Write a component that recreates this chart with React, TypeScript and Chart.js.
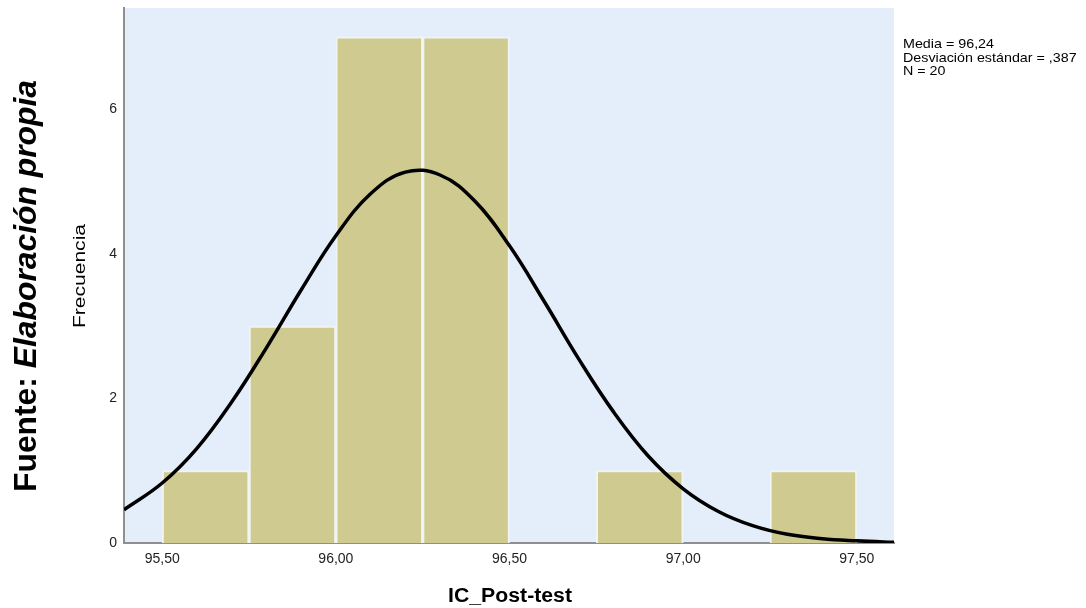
import React, { useEffect, useRef } from 'react';
import { Chart, registerables } from 'chart.js';

Chart.register(...registerables);

const FONT = '"Liberation Sans", Arial, Helvetica, sans-serif';

// Histogram bins (width 0,25) and frequencies
const binCenters = [95.625, 95.875, 96.125, 96.375, 96.625, 96.875, 97.125, 97.375];
const frequencies = [1, 3, 7, 7, 0, 1, 0, 1];

// Normal curve
const curveX = [95.39, 95.5, 95.6, 95.7, 95.8, 95.9, 96.0, 96.1, 96.2, 96.3, 96.4, 96.5, 96.6, 96.7, 96.8, 96.9, 97.0, 97.1, 97.2, 97.3, 97.4, 97.5, 97.6, 97.61];
const curveY = [0.46, 0.83, 1.31, 1.95, 2.70, 3.50, 4.25, 4.83, 5.13, 5.09, 4.73, 4.11, 3.34, 2.54, 1.81, 1.20, 0.75, 0.44, 0.24, 0.12, 0.06, 0.03, 0.01, 0.01];

const xTickValues = [95.5, 96.0, 96.5, 97.0, 97.5];
const yTickValues = [0, 2, 4, 6];

const statsLines = ['Media = 96,24', 'Desviación estándar = ,387', 'N = 20'];
const xTitle = 'IC_Post-test';
const yTitle = 'Frecuencia';
const sourceLabel = 'Fuente: ';
const sourceText = 'Elaboración propia';

const fmt = (v: number) => v.toFixed(2).replace('.', ',');

const zeroPad = (s: any) => {
  s.paddingTop = 0;
  s.paddingBottom = 0;
  s.paddingLeft = 0;
  s.paddingRight = 0;
};

export default function App() {
  const ref = useRef<HTMLCanvasElement>(null);

  useEffect(() => {
    if (!ref.current) return;

    const bgPlugin = {
      id: 'plotBg',
      beforeDraw(chart: any) {
        const { ctx, chartArea: a } = chart;
        ctx.save();
        ctx.fillStyle = '#ffffff';
        ctx.fillRect(0, 0, chart.width, chart.height);
        ctx.fillStyle = '#e3eefa';
        ctx.fillRect(a.left, a.top, a.right - a.left, a.bottom - a.top);
        ctx.restore();
      },
    };

    const textPlugin = {
      id: 'texts',
      afterDraw(chart: any) {
        const ctx: CanvasRenderingContext2D = chart.ctx;
        ctx.save();
        ctx.fillStyle = '#000000';
        ctx.textBaseline = 'alphabetic';
        ctx.textAlign = 'left';

        // Source label, rotated
        const f1 = `bold 32px ${FONT}`;
        const f2 = `italic bold 32px ${FONT}`;
        ctx.font = f1;
        const w1 = ctx.measureText(sourceLabel).width;
        ctx.font = f2;
        const w2 = ctx.measureText(sourceText).width;
        const s1 = 412 / (w1 + w2);
        ctx.save();
        ctx.translate(36, 492);
        ctx.rotate(-Math.PI / 2);
        ctx.scale(s1, 1);
        ctx.font = f1;
        ctx.fillText(sourceLabel, 0, 0);
        ctx.font = f2;
        ctx.fillText(sourceText, w1, 0);
        ctx.restore();

        // Y title
        ctx.save();
        ctx.font = `16px ${FONT}`;
        const wy = ctx.measureText(yTitle).width;
        ctx.translate(85, 328);
        ctx.rotate(-Math.PI / 2);
        ctx.scale(104 / wy, 1);
        ctx.fillText(yTitle, 0, 0);
        ctx.restore();

        // X title
        ctx.save();
        ctx.font = `bold 20px ${FONT}`;
        const wx = ctx.measureText(xTitle).width;
        ctx.translate(448, 601.5);
        ctx.scale(124 / wx, 1);
        ctx.fillText(xTitle, 0, 0);
        ctx.restore();

        // Stats
        ctx.save();
        ctx.font = `13px ${FONT}`;
        statsLines.forEach((line, i) => {
          ctx.save();
          ctx.translate(903, 48 + i * 13.5);
          ctx.scale(1.1, 1);
          ctx.fillText(line, 0, 0);
          ctx.restore();
        });
        ctx.restore();

        ctx.restore();
      },
    };

    const chart = new Chart(ref.current, {
      type: 'bar',
      data: {
        datasets: [
          {
            type: 'line',
            data: curveX.map((x, i) => ({ x, y: curveY[i] })),
            borderColor: '#000000',
            borderWidth: 3.5,
            pointRadius: 0,
            fill: false,
            tension: 0.4,
            order: 0,
          } as any,
          {
            type: 'bar',
            data: binCenters.map((x, i) => ({ x, y: frequencies[i] })),
            backgroundColor: '#cfca8f',
            borderColor: '#f1f4f4',
            borderWidth: 2,
            borderSkipped: 'start',
            barPercentage: 1,
            categoryPercentage: 1,
            order: 1,
          } as any,
        ],
      },
      options: {
        responsive: false,
        maintainAspectRatio: false,
        devicePixelRatio: 1,
        animation: false,
        layout: { padding: { left: 0, top: 8, right: 192, bottom: 0 } },
        plugins: { legend: { display: false }, tooltip: { enabled: false }, title: { display: false } },
        scales: {
          x: {
            type: 'linear',
            offset: false,
            min: 95.39,
            max: 97.607,
            grid: { display: false, drawTicks: false, offset: false },
            border: { display: true, color: '#8f8f8f', width: 2 },
            ticks: {
              font: { size: 14, family: FONT },
              color: '#222222',
              padding: 8,
              maxRotation: 0,
              autoSkip: false,
              callback: (v: any) => fmt(Number(v)),
            },
            afterBuildTicks: (s: any) => {
              s.ticks = xTickValues.map((v) => ({ value: v }));
            },
            afterFit: (s: any) => {
              s.height = 65;
              zeroPad(s);
            },
          },
          y: {
            type: 'linear',
            min: 0,
            max: 7.4,
            grid: { display: false, drawTicks: false },
            border: { display: true, color: '#8f8f8f', width: 2 },
            ticks: {
              font: { size: 14, family: FONT },
              color: '#222222',
              padding: 7,
              autoSkip: false,
              callback: (v: any) => String(v),
            },
            afterBuildTicks: (s: any) => {
              s.ticks = yTickValues.map((v) => ({ value: v }));
            },
            afterFit: (s: any) => {
              s.width = 124;
              zeroPad(s);
            },
          },
        },
      } as any,
      plugins: [bgPlugin, textPlugin],
    });

    return () => chart.destroy();
  }, []);

  return (
    <div style={{ position: 'fixed', left: 0, top: 0, width: 1086, height: 608, background: '#ffffff' }}>
      <canvas ref={ref} width={1086} height={608} style={{ display: 'block', width: 1086, height: 608 }} />
    </div>
  );
}
